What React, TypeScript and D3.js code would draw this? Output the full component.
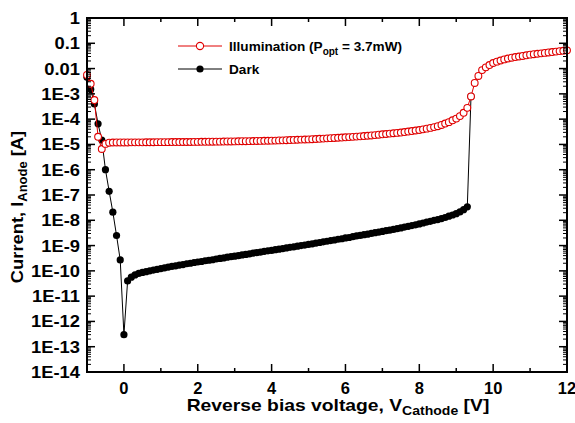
import React from "react";
import * as d3 from "d3";

// Illumination (Popt = 3.7mW), V from -1.0 to 12.0 in 0.1 V steps
const illumV = d3.range(131).map((i) => +(-1 + i * 0.1).toFixed(1));
const illumI = [
  5.6e-3, 2.5e-3, 5.7e-4, 2.0e-5, 6.6e-6, 1.05e-5, 1.17e-5, 1.19e-5, 1.2e-5, 1.2e-5,
  1.2e-5, 1.2e-5, 1.21e-5, 1.21e-5, 1.21e-5, 1.21e-5, 1.22e-5, 1.22e-5, 1.22e-5, 1.23e-5,
  1.23e-5, 1.23e-5, 1.23e-5, 1.24e-5, 1.24e-5, 1.24e-5, 1.25e-5, 1.25e-5, 1.25e-5, 1.26e-5,
  1.26e-5, 1.27e-5, 1.27e-5, 1.28e-5, 1.28e-5, 1.29e-5, 1.29e-5, 1.3e-5, 1.31e-5, 1.31e-5,
  1.32e-5, 1.33e-5, 1.34e-5, 1.34e-5, 1.35e-5, 1.36e-5, 1.37e-5, 1.38e-5, 1.39e-5, 1.4e-5,
  1.41e-5, 1.42e-5, 1.44e-5, 1.45e-5, 1.47e-5, 1.49e-5, 1.51e-5, 1.53e-5, 1.55e-5, 1.57e-5,
  1.58e-5, 1.61e-5, 1.64e-5, 1.67e-5, 1.7e-5, 1.74e-5, 1.77e-5, 1.8e-5, 1.84e-5, 1.87e-5,
  1.91e-5, 1.95e-5, 1.99e-5, 2.04e-5, 2.09e-5, 2.14e-5, 2.2e-5, 2.27e-5, 2.34e-5, 2.42e-5,
  2.51e-5, 2.59e-5, 2.68e-5, 2.77e-5, 2.86e-5, 2.95e-5, 3.09e-5, 3.23e-5, 3.38e-5, 3.55e-5,
  3.72e-5, 3.95e-5, 4.2e-5, 4.5e-5, 4.85e-5, 5.25e-5, 5.9e-5, 6.7e-5, 7.6e-5, 9.0e-5,
  1.05e-4, 1.32e-4, 1.78e-4, 2.8e-4, 7.9e-4, 2.7e-3, 5.1e-3, 8.7e-3, 1.12e-2, 1.38e-2,
  1.66e-2, 1.88e-2, 2.09e-2, 2.3e-2, 2.5e-2, 2.69e-2, 2.85e-2, 3.0e-2, 3.16e-2, 3.35e-2,
  3.55e-2, 3.7e-2, 3.85e-2, 4.0e-2, 4.17e-2, 4.35e-2, 4.5e-2, 4.7e-2, 4.9e-2, 5.05e-2,
  5.25e-2,
];

// Dark, V from -1.0 to 9.4 in 0.1 V steps
const darkV = d3.range(105).map((i) => +(-1 + i * 0.1).toFixed(1));
const darkI = [
  4.5e-3, 1.5e-3, 4.0e-4, 6.5e-5, 1.5e-5, 1.0e-6, 1.4e-7, 2.1e-8, 2.5e-9, 2.7e-10,
  3.0e-13, 4.0e-11, 5.6e-11, 6.9e-11, 7.9e-11, 8.7e-11, 9.3e-11, 1.0e-10, 1.07e-10, 1.15e-10,
  1.23e-10, 1.32e-10, 1.41e-10, 1.51e-10, 1.58e-10, 1.7e-10, 1.78e-10, 1.91e-10, 2.0e-10, 2.14e-10,
  2.24e-10, 2.34e-10, 2.51e-10, 2.63e-10, 2.75e-10, 2.95e-10, 3.09e-10, 3.24e-10, 3.47e-10, 3.63e-10,
  3.8e-10, 3.98e-10, 4.27e-10, 4.47e-10, 4.68e-10, 5.0e-10, 5.25e-10, 5.5e-10, 5.9e-10, 6.2e-10,
  6.45e-10, 6.9e-10, 7.2e-10, 7.6e-10, 8.1e-10, 8.5e-10, 8.9e-10, 9.5e-10, 1.0e-9, 1.05e-9,
  1.12e-9, 1.17e-9, 1.26e-9, 1.32e-9, 1.41e-9, 1.48e-9, 1.58e-9, 1.66e-9, 1.78e-9, 1.86e-9,
  2.0e-9, 2.09e-9, 2.24e-9, 2.4e-9, 2.51e-9, 2.69e-9, 2.82e-9, 3.02e-9, 3.24e-9, 3.39e-9,
  3.63e-9, 3.9e-9, 4.07e-9, 4.37e-9, 4.68e-9, 5.0e-9, 5.4e-9, 5.75e-9, 6.2e-9, 6.6e-9,
  7.2e-9, 7.8e-9, 8.5e-9, 9.1e-9, 1.0e-8, 1.07e-8, 1.17e-8, 1.29e-8, 1.45e-8, 1.62e-8,
  1.82e-8, 2.14e-8, 2.63e-8, 3.4e-8, 7.9e-4,
];

const xTicks = [0, 2, 4, 6, 8, 10, 12];
const yTickExps = d3.range(0, -15, -1);
const yTickLabels = ["1", "0.1", "0.01", "1E-3", "1E-4", "1E-5", "1E-6", "1E-7", "1E-8", "1E-9", "1E-10", "1E-11", "1E-12", "1E-13", "1E-14"];

const W = 575;
const H = 423;
const m = { left: 87, right: 8, top: 18, bottom: 51 };
const font = "'Liberation Sans', Arial, sans-serif";

export default function App() {
  const x = d3.scaleLinear().domain([-1, 12]).range([m.left, W - m.right]);
  const y = d3.scaleLog().domain([1e-14, 1]).range([H - m.bottom, m.top]);
  const [x0, x1] = x.range();
  const [yb, yt] = y.range();

  const illum = illumV.map((v, i) => [v, illumI[i]] as [number, number]);
  const dark = darkV.map((v, i) => [v, darkI[i]] as [number, number]);
  const line = d3.line<[number, number]>().x((d) => x(d[0])).y((d) => y(d[1]));

  const minorY: number[] = [];
  yTickExps.slice(1).forEach((e) => {
    for (let k = 2; k <= 9; k++) minorY.push(k * Math.pow(10, e));
  });
  const minorX = d3.range(-1, 13, 1).filter((v) => v % 2 !== 0);

  return (
    <svg width={W} height={H} style={{ position: "absolute", left: 0, top: 0, background: "#fff" }} fontFamily={font} fontWeight="bold">
      <rect width={W} height={H} fill="#fff" />
      {/* data */}
      <path d={line(dark) || ""} fill="none" stroke="#000" strokeWidth={1} />
      {dark.map((d, i) => (
        <circle key={"d" + i} cx={x(d[0])} cy={y(d[1])} r={3.6} fill="#000" />
      ))}
      <path d={line(illum) || ""} fill="none" stroke="#e00000" strokeWidth={1} />
      {illum.map((d, i) => (
        <circle key={"l" + i} cx={x(d[0])} cy={y(d[1])} r={3.4} fill="#fff" stroke="#e00000" strokeWidth={1.1} />
      ))}

      {/* ticks */}
      <g stroke="#000" strokeWidth={1.5}>
        {yTickExps.map((e) => {
          const yy = y(Math.pow(10, e));
          return (
            <g key={"yt" + e}>
              <line x1={x0} x2={x0 + 8} y1={yy} y2={yy} />
              <line x1={x1} x2={x1 - 8} y1={yy} y2={yy} />
            </g>
          );
        })}
        {minorY.map((v, i) => (
          <g key={"ym" + i}>
            <line x1={x0} x2={x0 + 4} y1={y(v)} y2={y(v)} strokeWidth={1} />
            <line x1={x1} x2={x1 - 4} y1={y(v)} y2={y(v)} strokeWidth={1} />
          </g>
        ))}
        {xTicks.map((v) => (
          <g key={"xt" + v}>
            <line x1={x(v)} x2={x(v)} y1={yb} y2={yb - 8} />
            <line x1={x(v)} x2={x(v)} y1={yt} y2={yt + 8} />
          </g>
        ))}
        {minorX.map((v) => (
          <g key={"xm" + v}>
            <line x1={x(v)} x2={x(v)} y1={yb} y2={yb - 4} />
            <line x1={x(v)} x2={x(v)} y1={yt} y2={yt + 4} />
          </g>
        ))}
      </g>
      <rect x={x0} y={yt} width={x1 - x0} height={yb - yt} fill="none" stroke="#000" strokeWidth={2} />

      {/* tick labels */}
      {yTickExps.map((e, i) => (
        <text key={"yl" + e} transform={`translate(${x0 - 7}, ${y(Math.pow(10, e)) + 6}) scale(1.08, 1)`} textAnchor="end" fontSize={17}>
          {yTickLabels[i]}
        </text>
      ))}
      {xTicks.map((v) => (
        <text key={"xl" + v} x={x(v)} y={yb + 22} textAnchor="middle" fontSize={16.5}>
          {v}
        </text>
      ))}

      {/* axis titles */}
      <text transform={`translate(338, 411) scale(1.17, 1)`} textAnchor="middle" fontSize={16.5}>
        Reverse bias voltage, V<tspan fontSize={12} dy={4}>Cathode</tspan>
        <tspan dy={-4}> [V]</tspan>
      </text>
      <text transform={`translate(23, 207) rotate(-90) scale(1.08, 1)`} textAnchor="middle" fontSize={17}>
        Current, I<tspan fontSize={12} dy={4}>Anode</tspan>
        <tspan dy={-4}> [A]</tspan>
      </text>

      {/* legend */}
      <g>
        <line x1={178} x2={222} y1={46} y2={46} stroke="#e00000" strokeWidth={1} />
        <circle cx={200} cy={46} r={3.6} fill="#fff" stroke="#e00000" strokeWidth={1.1} />
        <text x={229} y={51} fontSize={13.6}>
          Illumination (P<tspan fontSize={10} dy={4}>opt</tspan>
          <tspan dy={-4}> = 3.7mW)</tspan>
        </text>
        <line x1={178} x2={222} y1={69} y2={69} stroke="#000" strokeWidth={1} />
        <circle cx={200} cy={69} r={3.6} fill="#000" />
        <text x={229} y={74} fontSize={13.6}>
          Dark
        </text>
      </g>
    </svg>
  );
}
